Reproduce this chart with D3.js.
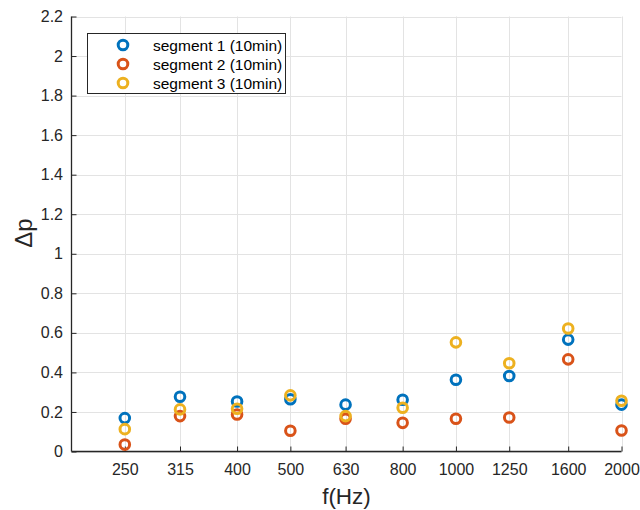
<!DOCTYPE html>
<html><head><meta charset="utf-8">
<script src="https://cdn.jsdelivr.net/npm/d3@7"></script>
<style>body{margin:0;background:#fff;} svg{display:block;font-family:"Liberation Sans",Arial,sans-serif;}</style>
</head><body>
<svg id="c" width="640" height="510"></svg>
<script>
const freqs = [250, 315, 400, 500, 630, 800, 1000, 1250, 1600, 2000];
const seg1 = [0.169, 0.277, 0.253, 0.264, 0.237, 0.262, 0.363, 0.382, 0.566, 0.237];
const seg2 = [0.035, 0.179, 0.187, 0.105, 0.166, 0.145, 0.166, 0.172, 0.466, 0.106];
const seg3 = [0.113, 0.213, 0.216, 0.284, 0.179, 0.221, 0.552, 0.446, 0.622, 0.257];
const seriesNames = ["segment 1 (10min)", "segment 2 (10min)", "segment 3 (10min)"];
const colors = ["#0072BD", "#D95319", "#EDB120"];
const yTicks = [0, 0.2, 0.4, 0.6, 0.8, 1, 1.2, 1.4, 1.6, 1.8, 2, 2.2];

const svg = d3.select("#c");
const L = 71.5, R = 621.5, T = 16.5, B = 451.5;
const x = d3.scaleLog().domain([200, 2000]).range([L, R]);
const y = d3.scaleLinear().domain([0, 2.2]).range([B, T]);
const axisCol = "#262626", gridCol = "#e3e3e3";

// grid
const g = svg.append("g");
g.selectAll(".gx").data(freqs).join("line")
  .attr("x1", d => Math.round(x(d)) + 0.5).attr("x2", d => Math.round(x(d)) + 0.5)
  .attr("y1", T).attr("y2", B).attr("stroke", gridCol).attr("stroke-width", 1);
g.selectAll(".gy").data(yTicks).join("line")
  .attr("y1", d => Math.round(y(d)) + 0.5).attr("y2", d => Math.round(y(d)) + 0.5)
  .attr("x1", L).attr("x2", R).attr("stroke", gridCol).attr("stroke-width", 1);

// axes
const xAxis = d3.axisBottom(x).tickValues(freqs).tickFormat(d3.format("d")).tickSizeInner(-5).tickSizeOuter(0).tickPadding(12);
const yAxis = d3.axisLeft(y).tickValues(yTicks).tickFormat(d => d3.format("")(d)).tickSizeInner(-5).tickSizeOuter(0).tickPadding(8.5);
const gx = svg.append("g").attr("transform", `translate(0,${B})`).call(xAxis);
const gy = svg.append("g").attr("transform", `translate(${L},0)`).call(yAxis);
[gx, gy].forEach(a => {
  a.select(".domain").attr("stroke", axisCol).attr("stroke-width", 1.3);
  a.selectAll(".tick line").attr("stroke", axisCol).attr("stroke-width", 1);
  a.selectAll(".tick text").attr("fill", axisCol).style("font-size", "16px").style("font-family", "'Liberation Sans',Arial,sans-serif");
});
gx.select(".domain").attr("d", `M${L},0H${R}`);
gy.select(".domain").attr("d", `M0,${B}V${T}`);

// labels
svg.append("text").attr("x", (L + R) / 2).attr("y", 504).attr("text-anchor", "middle")
  .attr("fill", axisCol).style("font-size", "22.5px").text("f(Hz)");
svg.append("text").attr("transform", `translate(32,233) rotate(-90)`).attr("text-anchor", "middle")
  .attr("fill", axisCol).style("font-size", "24px").text("Δp");

// points
const all = [seg1, seg2, seg3];
all.forEach((vals, i) => {
  svg.append("g").selectAll("circle").data(vals).join("circle")
    .attr("cx", (d, j) => x(freqs[j])).attr("cy", d => y(d)).attr("r", 4.8)
    .attr("fill", "none").attr("stroke", colors[i]).attr("stroke-width", 3);
});

// legend
const lg = svg.append("g");
lg.append("rect").attr("x", 87.5).attr("y", 33.5).attr("width", 198).attr("height", 60)
  .attr("fill", "#fff").attr("stroke", axisCol).attr("stroke-width", 1);
seriesNames.forEach((n, i) => {
  const yy = 45 + i * 19;
  lg.append("circle").attr("cx", 123).attr("cy", yy).attr("r", 4.8)
    .attr("fill", "none").attr("stroke", colors[i]).attr("stroke-width", 3);
  lg.append("text").attr("x", 153).attr("y", yy + 5.5).attr("fill", "#000")
    .style("font-size", "15.5px").text(n);
});
</script>
</body></html>
